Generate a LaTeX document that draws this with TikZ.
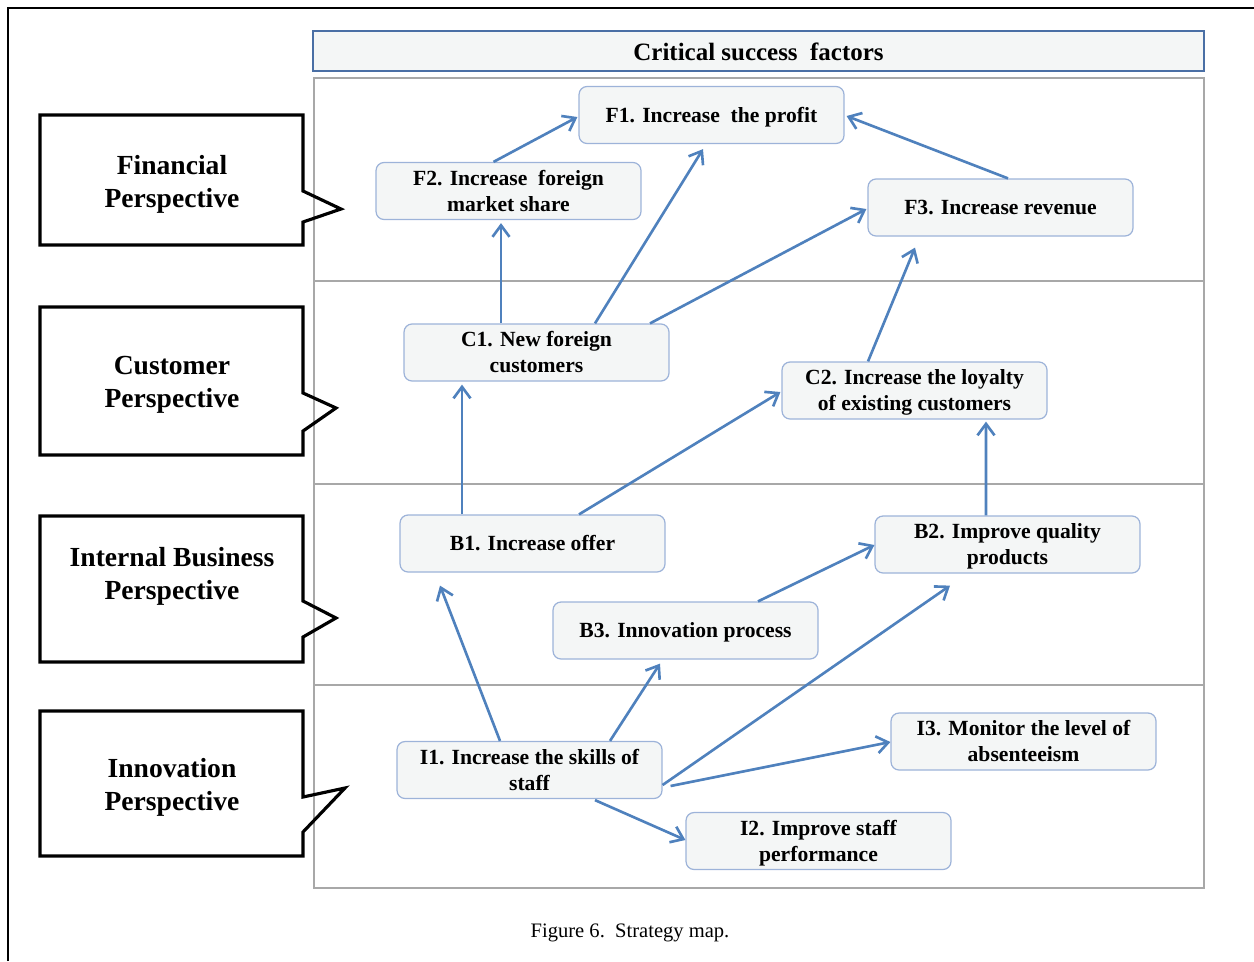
\documentclass[tikz,border=0pt]{standalone}
\usepackage{fontspec}
\setmainfont{Liberation Serif}
\usetikzlibrary{arrows.meta,calc}
\definecolor{nodefill}{HTML}{F4F6F6}
\definecolor{nodeborder}{HTML}{9DB3D9}
\definecolor{headborder}{HTML}{4A6FA5}
\definecolor{arrowblue}{HTML}{4F81BD}
\definecolor{panelgray}{HTML}{A8A8A8}
\newcommand\mytab[1]{\begin{tabular}{@{}c@{}}\rule{0pt}{12.9pt}#1\end{tabular}}
\tikzset{
  csf/.style={draw=nodeborder, fill=nodefill, rounded corners=0.16cm, line width=0.7pt,
    minimum width=5.3cm, minimum height=1.14cm, inner sep=0pt,
    font=\bfseries\fontsize{12.3}{14.8}\selectfont},
  arr/.style={draw=arrowblue, line width=1.5pt,
    -{Straight Barb[length=0.23cm,width=0.34cm,line width=1.5pt]}},
  callout/.style={draw=black, line width=1.8pt, line join=miter},
  calltext/.style={align=center, font=\bfseries\fontsize{15.7}{18.7}\selectfont},
}
\begin{document}
\begin{tikzpicture}[x=0.02cm,y=-0.02cm]
\useasboundingbox (0,0) rectangle (1254,961);
% outer frame
\draw[line width=0.8pt] (8,961) -- (8,8) -- (1254,8);
% header
\node[draw=headborder, fill=nodefill, line width=0.7pt, minimum width=17.82cm, minimum height=0.8cm,
  font=\bfseries\fontsize{14.2}{17}\selectfont, execute at begin node={\rule{0pt}{11.5pt}}]
  (head) at (758.5,51) {Critical success\ \ factors};
% panel
\draw[panelgray, line width=0.7pt] (314,78) rectangle (1204,888);
\draw[panelgray, line width=0.6pt] (314,281) -- (1204,281);
\draw[panelgray, line width=0.6pt] (314,484) -- (1204,484);
\draw[panelgray, line width=0.6pt] (314,685) -- (1204,685);
% callouts
\draw[callout] (40,115) -- (303,115) -- (303,191) -- (341,209) -- (303,222) -- (303,245) -- (40,245) -- cycle;
\draw[callout] (40,307) -- (303,307) -- (303,393) -- (336,408) -- (303,431) -- (303,455) -- (40,455) -- cycle;
\draw[callout] (40,516) -- (303,516) -- (303,601) -- (336,618) -- (303,637) -- (303,662) -- (40,662) -- cycle;
\draw[callout] (40,711) -- (303,711) -- (303,797) -- (345,788) -- (303,832) -- (303,856) -- (40,856) -- cycle;
\node[calltext] (pf) at (172,184) {Financial\\Perspective};
\node[calltext] (pc) at (172,385) {Customer\\Perspective};
\node[calltext] (pb) at (172,576) {Internal Business\\Perspective};
\node[calltext] (pi) at (172,787) {Innovation\\Perspective};
% nodes
\node[csf] (F1) at (711.5,115) {\mytab{F1. Increase\ \ the profit}};
\node[csf] (F2) at (508.5,191) {\mytab{F2. Increase\ \ foreign\\market share}};
\node[csf] (F3) at (1000.5,207.5) {\mytab{F3. Increase revenue}};
\node[csf] (C1) at (536.5,352.5) {\mytab{C1. New foreign\\customers}};
\node[csf] (C2) at (914.5,390.5) {\mytab{C2. Increase the loyalty\\of existing customers}};
\node[csf] (B1) at (532.5,543.5) {\mytab{B1. Increase offer}};
\node[csf] (B2) at (1007.5,544.5) {\mytab{B2. Improve quality\\products}};
\node[csf] (B3) at (685.5,630.5) {\mytab{B3. Innovation process}};
\node[csf] (I1) at (529.5,770) {\mytab{I1. Increase the skills of\\staff}};
\node[csf] (I2) at (818.5,841) {\mytab{I2. Improve staff\\performance}};
\node[csf] (I3) at (1023.5,741.5) {\mytab{I3. Monitor the level of\\absenteeism}};
% arrows
\draw[arr] ($(F2.north)+(-15,0)$) -- ($(F1.west)+(-1,2)$);
\draw[arr] ($(C1.north)+(58.5,0)$) -- ($(F1.south)+(-8.5,5)$);
\draw[arr] ($(F3.north)+(7.5,0)$) -- ($(F1.east)+(2,1)$);
\draw[arr] ($(C1.north)+(113.5,0)$) -- ($(F3.west)+(-1,1.5)$);
\draw[arr] ($(C1.north)+(-35.5,0)$) -- ($(F2.south)+(-7.5,3)$);
\draw[arr] ($(C2.north)+(-46.5,0)$) -- ($(F3.south)+(-85.5,11)$);
\draw[arr] ($(B1.north)+(-70.5,0)$) -- ($(C1.south)+(-74.5,3)$);
\draw[arr] ($(B1.north)+(46.5,0)$) -- ($(C2.west)+(-1,1.5)$);
\draw[arr] ($(B2.north)+(-21.5,0)$) -- ($(C2.south)+(71.5,2)$);
\draw[arr] ($(B3.north)+(72.5,0)$) -- ($(B2.west)+(0,0.5)$);
\draw[arr] ($(I1.north)+(-29.5,0)$) -- ($(B1.south)+(-92.5,13)$);
\draw[arr] ($(I1.north)+(80.5,0)$) -- ($(B3.south)+(-25.5,4)$);
\draw[arr] ($(I1.east)+(0,15)$) -- ($(B2.south)+(-57.5,12)$);
\draw[arr] ($(I1.east)+(8,16)$) -- ($(I3.west)+(0,0.5)$);
\draw[arr] ($(I1.south)+(65.5,1)$) -- ($(I2.west)+(0,-1)$);
% caption
\node[font=\fontsize{11.7}{14}\selectfont] (cap) at (630,933) {Figure 6.\ \ Strategy map.};
\end{tikzpicture}
\end{document}
